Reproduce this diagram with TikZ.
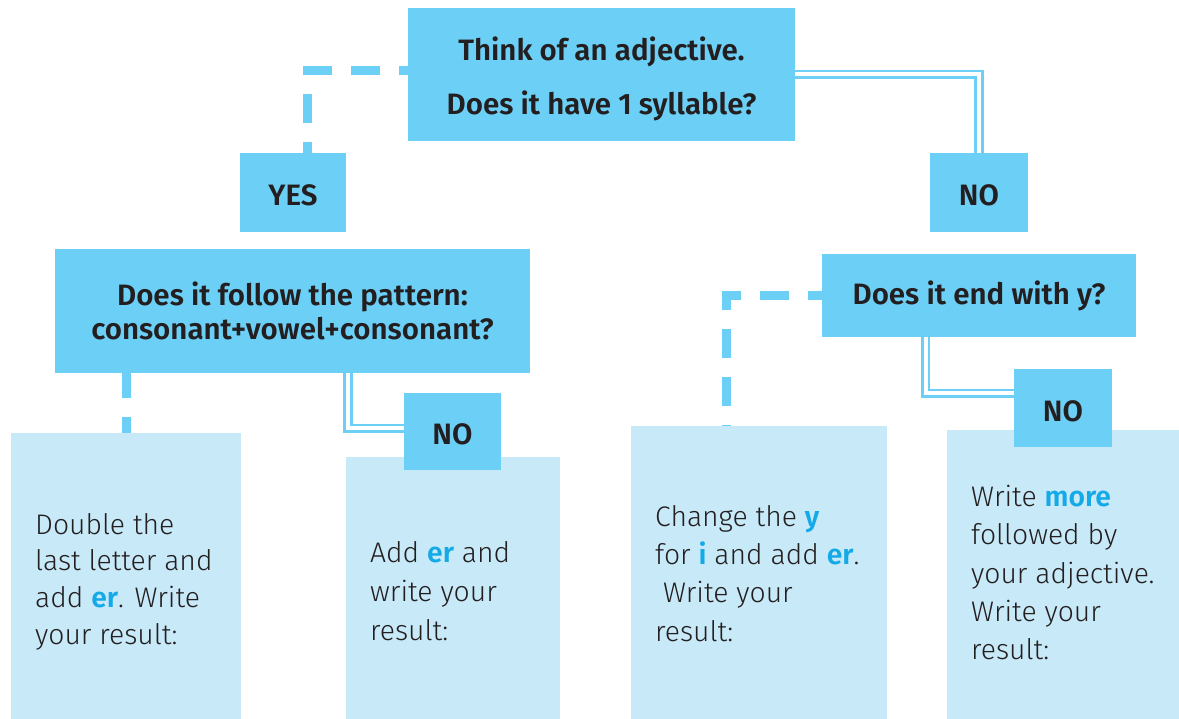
\documentclass[tikz,border=0pt]{standalone}
\usepackage{fontspec}
\setmainfont{Fira Sans}[UprightFont={* Light}, BoldFont={* SemiBold}]
\usetikzlibrary{backgrounds}
\definecolor{dkbox}{RGB}{108,207,246}
\definecolor{ltbox}{RGB}{200,233,248}
\definecolor{ink}{RGB}{35,31,32}
\definecolor{hl}{RGB}{20,170,232}
\newcommand{\hw}[1]{{\bfseries\color{hl}#1}}
\tikzset{
  qbox/.style={fill=dkbox, inner sep=0pt, text=ink, font=\bfseries\fontsize{29.5}{34}\selectfont, align=center},
  lbox/.style={qbox, text height=26pt, text depth=0pt},
  abox/.style={fill=ltbox, inner sep=0pt},
  atext/.style={anchor=north west, inner sep=0pt, text=ink, align=left, font=\fontsize{28.3}{38.3}\selectfont},
  dashconn/.style={draw=dkbox, line width=9pt, dash pattern=on 29pt off 19pt},
  dblconn/.style={draw=dkbox, line width=2.7pt, double=white, double distance=4pt},
}
\begin{document}
\begin{tikzpicture}[x=1pt,y=-1pt]
\useasboundingbox (0,0) rectangle (1179,719);
% question / label boxes
\node[qbox, minimum width=387pt, minimum height=133pt] (top) at (601.5,74.5) {};
\node[qbox] (topt) at (601.5,52) {Think of an adjective.};
\node[qbox] (topb) at (601.5,106) {Does it have 1 syllable?};
\node[lbox, minimum width=106pt, minimum height=79pt] (yes) at (293,192.5) {YES};
\node[lbox, minimum width=98pt, minimum height=79pt] (no1) at (979,192.5) {NO};
\node[qbox, minimum width=475pt, minimum height=124pt] (pat) at (292.5,311) {Does it follow the pattern:\\consonant+vowel+consonant?};
\node[qbox, minimum width=314pt, minimum height=83pt] (ybox) at (979,295.5) {Does it end with y?};
% answer boxes
\node[abox, minimum width=230pt, minimum height=286pt] (a1) at (126,576) {};
\node[abox, minimum width=214pt, minimum height=262pt] (a2) at (453,588) {};
\node[abox, minimum width=256pt, minimum height=293pt] (a3) at (759,572.5) {};
\node[abox, minimum width=232pt, minimum height=289pt] (a4) at (1063,574.5) {};
\node[lbox, minimum width=97pt, minimum height=77pt] (no2) at (452.5,431.5) {NO};
\node[lbox, minimum width=98pt, minimum height=78pt] (no3) at (1063,408) {NO};
% answer texts
\node[atext, font=\fontsize{28.3}{36.6}\selectfont] (t1) at (35,513) {Double the\\last letter and\\add \hw{er}. Write\\your result:};
\node[atext, font=\fontsize{28.3}{39}\selectfont] (t2) at (370,541) {Add \hw{er} and\\write your\\result:};
\node[atext] (t3) at (655,505) {Change the \hw{y}\\for \hw{i} and add \hw{er}.\\\ Write your\\result:};
\node[atext] (t4) at (971,485) {Write \hw{more}\\followed by\\your adjective.\\Write your\\result:};
% connectors
\begin{scope}[on background layer]
\draw[dashconn, dash phase=20pt] ([yshift=4pt]top.west) -| ([xshift=14.5pt]yes.north);
\draw[dblconn] (top.east) -| (no1.north);
\draw[dashconn, dash phase=4pt] (pat.south -| a1.north) -- (a1.north);
\draw[dblconn] ([xshift=55.5pt]pat.south) |- ([yshift=3pt]no2.west);
\draw[dashconn, dash phase=15pt] (ybox.west) -| ([xshift=-32.5pt]a3.north);
\draw[dblconn] ([xshift=-53.5pt]ybox.south) |- ([yshift=14.5pt]no3.west);
\end{scope}
\end{tikzpicture}
\end{document}
